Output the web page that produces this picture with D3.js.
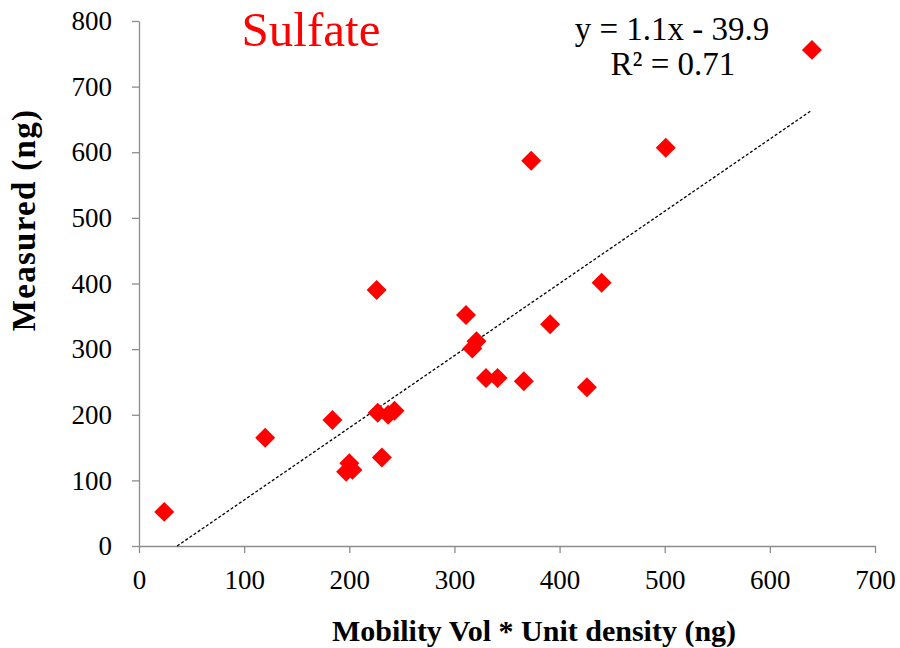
<!DOCTYPE html>
<html>
<head>
<meta charset="utf-8">
<script src="https://cdn.jsdelivr.net/npm/d3@7"></script>
<style>
body { margin: 0; background: #fff; }
</style>
</head>
<body>
<script>
// data
var mobility = [24, 120, 184, 226, 197, 200, 203, 231, 227, 237, 243, 311, 317, 321,
                330, 341, 366, 373, 391, 426, 440, 501, 640];
var measured = [52, 165, 192, 390, 113, 126, 116, 135, 203, 200, 206, 352, 301, 312,
                256, 256, 251, 587, 338, 242, 401, 607, 756];
var xTicks = [0, 100, 200, 300, 400, 500, 600, 700];
var yTicks = [0, 100, 200, 300, 400, 500, 600, 700, 800];
var slope = 1.1, intercept = -39.9;

var serif = '"Liberation Serif", "Times New Roman", serif';
var margin = {top: 21, left: 139};

var svg = d3.select("body").append("svg")
    .attr("width", 900).attr("height", 648);
var g = svg.append("g")
    .attr("transform", "translate(" + margin.left + "," + margin.top + ")");

var x = d3.scaleLinear().domain([0, 700]).range([0, 736]);
var y = d3.scaleLinear().domain([0, 800]).range([525, 0]);

// axes
function styleAxis(sel) {
    sel.selectAll("path, line").attr("stroke", "#8c8c8c").attr("stroke-width", 1.3);
    sel.selectAll("text")
        .style("font-family", serif)
        .style("font-size", "27px")
        .attr("fill", "#000");
}
g.append("g")
    .call(d3.axisLeft(y).tickValues(yTicks).tickSize(7).tickSizeOuter(0).tickPadding(20))
    .call(styleAxis);
g.append("g")
    .attr("transform", "translate(0," + y(0) + ")")
    .call(d3.axisBottom(x).tickValues(xTicks).tickSize(7).tickSizeOuter(0).tickPadding(17))
    .call(styleAxis);

// trend line, clipped at y = 0
var x0 = Math.max(d3.min(mobility), -intercept / slope), x1 = d3.max(mobility);
g.append("line")
    .attr("x1", x(x0)).attr("y1", y(slope * x0 + intercept))
    .attr("x2", x(x1)).attr("y2", y(slope * x1 + intercept))
    .attr("stroke", "#000").attr("stroke-width", 1.3)
    .attr("stroke-dasharray", "3,2");

// points
var diamond = d3.symbol().type(d3.symbolSquare).size(200);
g.selectAll(".pt").data(mobility).enter().append("path")
    .attr("class", "pt")
    .attr("d", diamond)
    .attr("fill", "#ff0000")
    .attr("transform", function(d, i) {
        return "translate(" + x(d) + "," + y(measured[i]) + ") rotate(45)";
    });

// title + equation
function label(txt, px, py, size, weight) {
    return svg.append("text").attr("x", px).attr("y", py)
        .attr("text-anchor", "middle")
        .style("font-family", serif)
        .style("font-size", size + "px")
        .style("font-weight", weight || "normal")
        .text(txt);
}
label("Sulfate", 311, 46, 49).style("fill", "#ff0000");
label("y = 1.1x - 39.9", 672, 40, 33);
label("R² = 0.71", 673, 75, 33);

// axis titles
label("Mobility Vol * Unit density (ng)", 534, 641, 30, "bold");
label("Measured  (ng)", 0, 0, 33, "bold")
    .style("letter-spacing", "1.3px")
    .attr("transform", "translate(35,220) rotate(-90)");
</script>
</body>
</html>
